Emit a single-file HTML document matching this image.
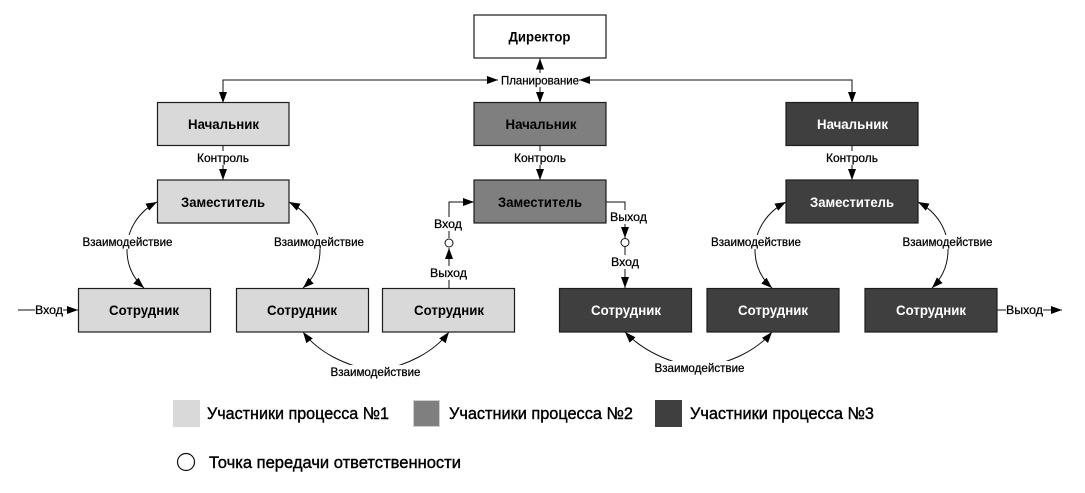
<!DOCTYPE html>
<html lang="ru">
<head>
<meta charset="utf-8">
<style>
html,body{margin:0;padding:0;background:#fff;width:1085px;height:493px;overflow:hidden}
svg{display:block}
text{font-family:"Liberation Sans",sans-serif;text-anchor:middle;fill:#000}
.b{font-size:14px;font-weight:bold}
.w{fill:#fff}
.l{font-size:12px;stroke:#000;stroke-width:.25}
.g{font-size:17px;text-anchor:start;stroke:#000;stroke-width:.4}
.n{stroke:#1c1c1c;stroke-width:1.2}
.c{fill:none;stroke:#111;stroke-width:1}
.bg{fill:#fff}
</style>
</head>
<body>
<svg width="1085" height="493" viewBox="0 0 1085 493" xmlns="http://www.w3.org/2000/svg">
<defs>
<marker id="h" markerUnits="userSpaceOnUse" markerWidth="12" markerHeight="8" refX="11" refY="4" orient="auto-start-reverse"><path d="M0 0L11 4L0 8Z" fill="#000"/></marker>
</defs>

<!-- connectors -->
<g class="c">
<path d="M498 80H223V103" marker-end="url(#h)" marker-start="url(#h)"/>
<path d="M540 58.500V103" marker-end="url(#h)" marker-start="url(#h)"/>
<path d="M579 80H852V103" marker-end="url(#h)" marker-start="url(#h)"/>
<path d="M223 146V180" marker-end="url(#h)"/>
<path d="M540 146V180" marker-end="url(#h)"/>
<path d="M852 146V180" marker-end="url(#h)"/>
<path d="M157 202C138 212 127 230 127 250C127 265 133 278 144 288" marker-start="url(#h)" marker-end="url(#h)"/>
<path d="M289 202C308 212 320 230 320 250C320 265 314 278 303 288" marker-start="url(#h)" marker-end="url(#h)"/>
<path d="M786 202C767 212 755 230 755 250C755 265 761 278 772 288" marker-start="url(#h)" marker-end="url(#h)"/>
<path d="M918 202C937 212 948 230 948 250C948 265 942 278 932 288" marker-start="url(#h)" marker-end="url(#h)"/>
<path d="M303 332C318 352 345 366 376 371C407 366 434 352 449 332" marker-start="url(#h)" marker-end="url(#h)"/>
<path d="M625 332C642 350 670 364 699 367C730 364 757 350 772 332" marker-start="url(#h)" marker-end="url(#h)"/>
<path d="M18 310H78" marker-end="url(#h)"/>
<path d="M997 310H1062" marker-end="url(#h)"/>
<path d="M449 288V248" marker-end="url(#h)"/>
<path d="M449 238V202H474" marker-end="url(#h)"/>
<path d="M606 202H625V238" marker-end="url(#h)"/>
<path d="M625 247V288" marker-end="url(#h)"/>
</g>
<circle cx="449" cy="243" r="4" fill="#fff" stroke="#111"/>
<circle cx="625" cy="242.500" r="4" fill="#fff" stroke="#111"/>

<!-- nodes -->
<rect class="n" x="474" y="15" width="132" height="43" fill="#fff"/>
<rect class="n" x="157.500" y="102.500" width="131.500" height="43" fill="#d9d9d9"/>
<rect class="n" x="474" y="102.500" width="132" height="43" fill="#7f7f7f"/>
<rect class="n" x="786" y="102.500" width="132" height="43" fill="#3f3f3f"/>
<rect class="n" x="157.500" y="180" width="131.500" height="43" fill="#d9d9d9"/>
<rect class="n" x="474" y="180" width="132" height="43" fill="#7f7f7f"/>
<rect class="n" x="786" y="180" width="132" height="43" fill="#3f3f3f"/>
<rect class="n" x="78.500" y="288.500" width="132" height="43.500" fill="#d9d9d9"/>
<rect class="n" x="236.500" y="288.500" width="132" height="43.500" fill="#d9d9d9"/>
<rect class="n" x="382.500" y="288.500" width="132" height="43.500" fill="#d9d9d9"/>
<rect class="n" x="559.500" y="288.500" width="132" height="43.500" fill="#3f3f3f"/>
<rect class="n" x="707" y="288.500" width="132" height="43.500" fill="#3f3f3f"/>
<rect class="n" x="865" y="288.500" width="132" height="43.500" fill="#3f3f3f"/>

<!-- node text -->
<text class="b" x="539.500" y="41.500" textLength="62" lengthAdjust="spacingAndGlyphs">Директор</text>
<text class="b" x="223.500" y="129" textLength="71" lengthAdjust="spacingAndGlyphs">Начальник</text>
<text class="b" x="541" y="129" textLength="71" lengthAdjust="spacingAndGlyphs">Начальник</text>
<text class="b w" x="852.500" y="129" textLength="71" lengthAdjust="spacingAndGlyphs">Начальник</text>
<text class="b" x="223" y="207" textLength="84" lengthAdjust="spacingAndGlyphs">Заместитель</text>
<text class="b" x="540" y="207" textLength="84" lengthAdjust="spacingAndGlyphs">Заместитель</text>
<text class="b w" x="852" y="207" textLength="84" lengthAdjust="spacingAndGlyphs">Заместитель</text>
<text class="b" x="144" y="315" textLength="70" lengthAdjust="spacingAndGlyphs">Сотрудник</text>
<text class="b" x="302" y="315" textLength="70" lengthAdjust="spacingAndGlyphs">Сотрудник</text>
<text class="b" x="449" y="315" textLength="70" lengthAdjust="spacingAndGlyphs">Сотрудник</text>
<text class="b w" x="626" y="315" textLength="70" lengthAdjust="spacingAndGlyphs">Сотрудник</text>
<text class="b w" x="773" y="315" textLength="70" lengthAdjust="spacingAndGlyphs">Сотрудник</text>
<text class="b w" x="931" y="315" textLength="70" lengthAdjust="spacingAndGlyphs">Сотрудник</text>

<!-- connector labels -->
<rect class="bg" x="500" y="73" width="79" height="14"/>
<text class="l" x="540" y="84.500" textLength="78" lengthAdjust="spacingAndGlyphs">Планирование</text>
<rect class="bg" x="197" y="151" width="53" height="14"/>
<text class="l" x="223" y="162" textLength="52" lengthAdjust="spacingAndGlyphs">Контроль</text>
<rect class="bg" x="514" y="151" width="53" height="14"/>
<text class="l" x="540" y="162" textLength="52" lengthAdjust="spacingAndGlyphs">Контроль</text>
<rect class="bg" x="826" y="151" width="53" height="14"/>
<text class="l" x="852" y="162" textLength="52" lengthAdjust="spacingAndGlyphs">Контроль</text>

<rect class="bg" x="82" y="235" width="91" height="14"/>
<text class="l" x="127.500" y="246" textLength="90" lengthAdjust="spacingAndGlyphs">Взаимодействие</text>
<rect class="bg" x="273" y="235" width="91" height="14"/>
<text class="l" x="319" y="246" textLength="90" lengthAdjust="spacingAndGlyphs">Взаимодействие</text>
<rect class="bg" x="710" y="235" width="91" height="14"/>
<text class="l" x="756" y="246" textLength="90" lengthAdjust="spacingAndGlyphs">Взаимодействие</text>
<rect class="bg" x="902" y="235" width="91" height="14"/>
<text class="l" x="947.500" y="246" textLength="90" lengthAdjust="spacingAndGlyphs">Взаимодействие</text>
<rect class="bg" x="330" y="365" width="91" height="14"/>
<text class="l" x="375.500" y="376" textLength="90" lengthAdjust="spacingAndGlyphs">Взаимодействие</text>
<rect class="bg" x="654" y="361" width="91" height="14"/>
<text class="l" x="699.500" y="372" textLength="90" lengthAdjust="spacingAndGlyphs">Взаимодействие</text>

<rect class="bg" x="35" y="303" width="28" height="14"/>
<text class="l" x="49" y="314" textLength="28" lengthAdjust="spacingAndGlyphs">Вход</text>
<rect class="bg" x="1006" y="303" width="37" height="14"/>
<text class="l" x="1024.500" y="314" textLength="37" lengthAdjust="spacingAndGlyphs">Выход</text>
<rect class="bg" x="434" y="217" width="28" height="14"/>
<text class="l" x="448" y="228" textLength="28" lengthAdjust="spacingAndGlyphs">Вход</text>
<rect class="bg" x="430" y="266" width="37" height="14"/>
<text class="l" x="448.500" y="277" textLength="37" lengthAdjust="spacingAndGlyphs">Выход</text>
<rect class="bg" x="610" y="210" width="37" height="14"/>
<text class="l" x="628.500" y="221" textLength="37" lengthAdjust="spacingAndGlyphs">Выход</text>
<rect class="bg" x="611" y="255" width="28" height="14"/>
<text class="l" x="625" y="266" textLength="28" lengthAdjust="spacingAndGlyphs">Вход</text>

<!-- legend -->
<rect x="173" y="400" width="27" height="27" fill="#d9d9d9"/>
<rect x="413.500" y="400.500" width="26" height="26" fill="#7f7f7f" stroke="#cfcfcf"/>
<rect x="655" y="400" width="27" height="27" fill="#3f3f3f"/>
<text class="g" x="207" y="419" textLength="182" lengthAdjust="spacingAndGlyphs">Участники процесса №1</text>
<text class="g" x="449" y="419" textLength="184" lengthAdjust="spacingAndGlyphs">Участники процесса №2</text>
<text class="g" x="690" y="419" textLength="184" lengthAdjust="spacingAndGlyphs">Участники процесса №3</text>
<circle cx="186" cy="462" r="8.500" fill="#fff" stroke="#111" stroke-width="1.200"/>
<text class="g" x="209" y="468" textLength="252" lengthAdjust="spacingAndGlyphs">Точка передачи ответственности</text>
</svg>
</body>
</html>
